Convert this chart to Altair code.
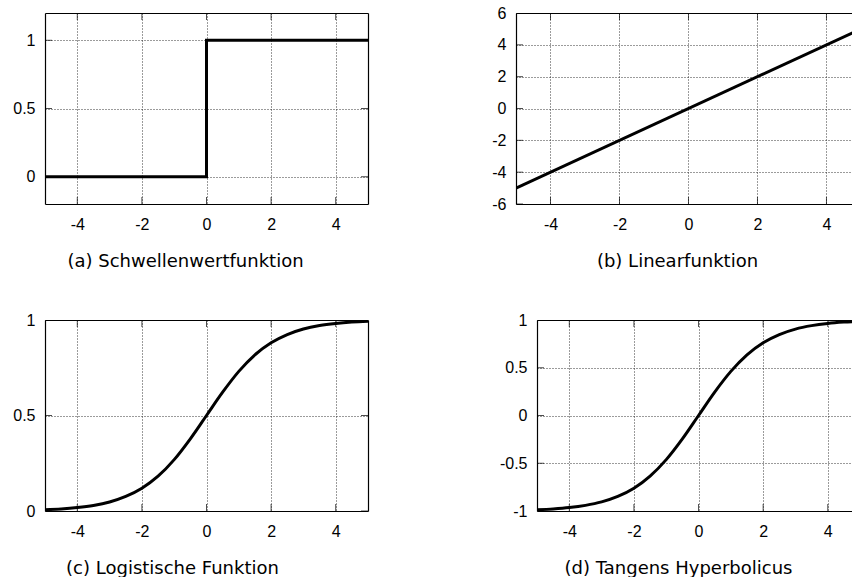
import altair as alt
import pandas as pd

# Shared tick positions on the x axis of every panel
X_TICKS = [-4, -2, 0, 2, 4]

# (a) threshold / step function
STEP_X = [-5, 0, 0, 5]
STEP_Y = [0, 0, 1, 1]

# (b) linear function
LIN_X = [-5, 5]
LIN_Y = [-5, 5]

# (c) logistic and (d) hyperbolic tangent, sampled every 0.5
CURVE_X = [-5, -4.5, -4, -3.5, -3, -2.5, -2, -1.5, -1, -0.5, 0,
           0.5, 1, 1.5, 2, 2.5, 3, 3.5, 4, 4.5, 5]
LOGISTIC_Y = [0.007, 0.011, 0.018, 0.029, 0.047, 0.076, 0.119, 0.182, 0.269, 0.378, 0.5,
              0.622, 0.731, 0.818, 0.881, 0.924, 0.953, 0.971, 0.982, 0.989, 0.993]
TANH_Y = [-0.987, -0.978, -0.964, -0.941, -0.905, -0.848, -0.762, -0.635, -0.462, -0.245, 0,
          0.245, 0.462, 0.635, 0.762, 0.848, 0.905, 0.941, 0.964, 0.978, 0.987]

LABEL_FONT = "Liberation Sans"
CAPTION_FONT = "DejaVu Sans"
PLOT_H = 191
TICK_LEN = 14  # centred on the frame and clipped, so half of it shows inside
LABEL_EXPR = "datum.value + ''"


def panel(xs, ys, x_dom, y_dom, y_ticks, caption, caption_x, width, right_frame,
          interp="linear"):
    x_scale = alt.Scale(domain=x_dom, nice=False, zero=False)
    y_scale = alt.Scale(domain=y_dom, nice=False, zero=False)

    line_df = pd.DataFrame({"x": xs, "y": ys, "i": list(range(len(xs)))})
    curve = alt.Chart(line_df).mark_line(
        color="black", strokeWidth=3, clip=True, interpolate=interp
    ).encode(
        x=alt.X("x:Q", scale=x_scale, axis=alt.Axis(
            orient="bottom", values=X_TICKS, grid=True, ticks=False, domain=True,
            labelExpr=LABEL_EXPR, title=caption, titleX=caption_x, titleY=62,
            titleAlign="center", titleBaseline="alphabetic")),
        y=alt.Y("y:Q", scale=y_scale, axis=alt.Axis(
            orient="left", values=y_ticks, grid=True, ticks=False, domain=True,
            labelExpr=LABEL_EXPR, title=None, minExtent=45)),
        order="i:Q",
    )

    # inward tick marks along the bottom and top edges
    vt_df = pd.DataFrame({"x": X_TICKS * 2,
                          "y": [y_dom[0]] * len(X_TICKS) + [y_dom[1]] * len(X_TICKS)})
    right_axis = alt.Axis(orient="right", labels=False, ticks=False, grid=False,
                          domain=True, title=None, minExtent=0, maxExtent=0)
    vticks = alt.Chart(vt_df).mark_tick(
        orient="vertical", size=TICK_LEN, thickness=1, color="black", clip=True
    ).encode(
        x=alt.X("x:Q", scale=x_scale, axis=alt.Axis(
            orient="top", labels=False, ticks=False, grid=False, domain=True,
            title=None, minExtent=13, maxExtent=13)),
        y=alt.Y("y:Q", scale=y_scale, axis=right_axis if right_frame else None),
    )

    # inward tick marks along the left (and right) edges
    edges = [x_dom[0], x_dom[1]] if right_frame else [x_dom[0]]
    ht_df = pd.DataFrame({"x": [e for e in edges for _ in y_ticks],
                          "y": [t for _ in edges for t in y_ticks]})
    hticks = alt.Chart(ht_df).mark_tick(
        orient="horizontal", size=TICK_LEN, thickness=1, color="black", clip=True
    ).encode(
        x=alt.X("x:Q", scale=x_scale, axis=None),
        y=alt.Y("y:Q", scale=y_scale, axis=None),
    )

    return alt.layer(curve, vticks, hticks).resolve_axis(
        x="independent", y="independent"
    ).properties(width=width, height=PLOT_H)


a = panel(STEP_X, STEP_Y, [-5, 5], [-0.2, 1.2], [0, 0.5, 1],
          "(a) Schwellenwertfunktion", 140, 323, True)
b = panel(LIN_X, LIN_Y, [-5, 4.74], [-6, 6], [-6, -4, -2, 0, 2, 4, 6],
          "(b) Linearfunktion", 161, 336, False)
c = panel(CURVE_X, LOGISTIC_Y, [-5, 5], [0, 1], [0, 0.5, 1],
          "(c) Logistische Funktion", 127, 323, True, "monotone")
d = panel(CURVE_X, TANH_Y, [-5, 4.75], [-1, 1], [-1, -0.5, 0, 0.5, 1],
          "(d) Tangens Hyperbolicus", 141, 315, False, "monotone")

row1 = alt.hconcat(a, b, spacing=148, bounds="flush")
row2 = alt.hconcat(c, d, spacing=169, bounds="flush")

chart = alt.vconcat(row1, row2, spacing=37).properties(
    padding=0, background="white"
).configure_view(
    stroke=None
).configure_axis(
    labelFont=LABEL_FONT, labelFontSize=16, labelColor="black",
    domainColor="black", domainWidth=1.2,
    gridColor="#222222", gridOpacity=0.9, gridDash=[1, 2], gridWidth=1,
    titleFont=CAPTION_FONT, titleFontSize=18, titleFontWeight="normal",
    titleColor="black",
).configure_axisBottom(
    labelPadding=12
).configure_axisLeft(
    labelPadding=10
)

chart.save("out.html", embed_options={"renderer": "svg", "actions": False})
